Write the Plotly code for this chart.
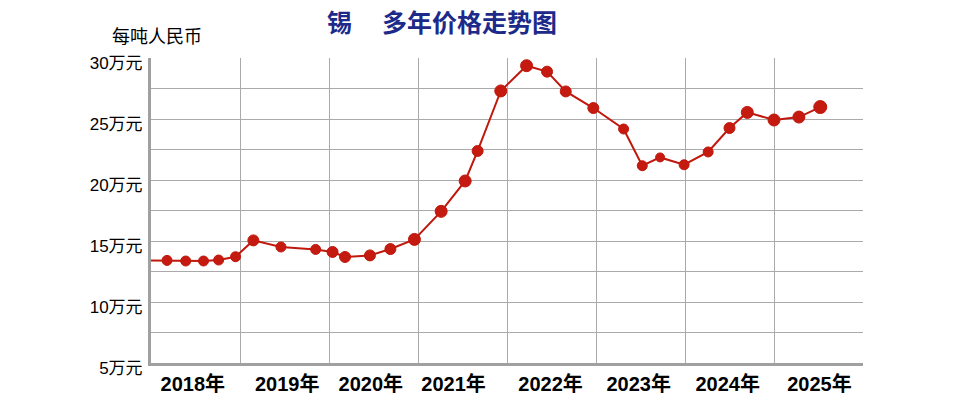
import plotly.graph_objects as go

# decimal-year positions of each price observation
x_years = [2018.00, 2018.18, 2018.39, 2018.59, 2018.76, 2018.95, 2019.15, 2019.46, 2019.85,
           2020.04, 2020.18, 2020.46, 2020.69, 2020.96, 2021.26, 2021.53, 2021.67, 2021.93,
           2022.22, 2022.45, 2022.66, 2022.97, 2023.31, 2023.52, 2023.72, 2023.99,
           2024.26, 2024.50, 2024.70, 2025.00, 2025.28, 2025.52]
# price in 万元 per ton
prices = [13.41, 13.41, 13.36, 13.36, 13.44, 13.71, 15.05, 14.51, 14.31,
          14.10, 13.69, 13.82, 14.34, 15.13, 17.43, 19.92, 22.38, 27.30,
          29.37, 28.88, 27.26, 25.90, 24.18, 21.17, 21.85, 21.25,
          22.30, 24.26, 25.54, 24.92, 25.16, 25.98]
marker_sizes = [0, 10, 10, 10, 10, 10, 11, 10, 10, 11, 11, 11, 11, 12, 12, 12, 11, 12,
                12, 11, 11, 11, 10, 10, 9, 10, 10, 11, 12, 12, 12, 13]

year_labels = ["2018年", "2019年", "2020年", "2021年", "2022年", "2023年", "2024年", "2025年"]
year_label_pos = [2018.47, 2019.53, 2020.47, 2021.40, 2022.49, 2023.48, 2024.48, 2025.51]
year_bounds = [2018, 2019, 2020, 2021, 2022, 2023, 2024, 2025, 2026]

y_vals = [5, 7.5, 10, 12.5, 15, 17.5, 20, 22.5, 25, 27.5, 30]
y_text = ["5万元", "", "10万元", "", "15万元", "", "20万元", "", "25万元", "", "30万元"]

title_text = "锡\u3000\u2009多年价格走势图"
unit_text = "每吨人民币"

FONT = "Liberation Sans, Arial, Noto Sans CJK SC, sans-serif"
GRID = "#aaaaaa"

# figure sits 8px inside the page (body margin)
W, H = 959, 405
ML, MR, MT, MB = 143, 104, 50, 50
PW = W - ML - MR
PH = H - MT - MB


def px_to_paper(px, py):
    # px, py are page pixel positions
    return ((px - 8 - ML) / PW, (H - MB - (py - 8)) / PH)


tx, ty = px_to_paper(442, 8)
ux, uy = px_to_paper(157, 35)

fig = go.Figure()
fig.add_trace(go.Scatter(
    x=x_years, y=prices, mode="lines+markers",
    line=dict(color="#c0180c", width=2),
    marker=dict(color="#c41a10", size=marker_sizes, opacity=1),
    hoverinfo="skip", showlegend=False,
))

fig.update_layout(
    width=W, height=H,
    margin=dict(l=ML, r=MR, t=MT, b=MB),
    paper_bgcolor="white", plot_bgcolor="white",
    font=dict(family=FONT, color="black"),
    annotations=[
        dict(text=title_text, x=tx, y=ty, xref="paper", yref="paper", showarrow=False,
             xanchor="center", yanchor="top", borderpad=0,
             font=dict(size=25, color="#1c2a8a", family="Liberation Sans, Noto Sans CJK SC, sans-serif",
                       weight="bold")),
        dict(text=unit_text, x=ux, y=uy, xref="paper", yref="paper", showarrow=False,
             xanchor="center", yanchor="middle",
             font=dict(size=18, color="black", family="Noto Sans CJK SC, sans-serif")),
    ],
)

fig.update_xaxes(
    range=[2018, 2026], tickmode="array", tickvals=year_label_pos, ticktext=year_labels,
    showgrid=False, showline=True, linecolor="#a0a0a0", linewidth=3,
    ticks="", ticklabelstandoff=1,
    tickfont=dict(size=20, color="black", family="Liberation Sans, Noto Sans CJK SC, sans-serif",
                  weight="bold"),
    minor=dict(tickmode="array", tickvals=year_bounds, showgrid=True, gridcolor=GRID, gridwidth=1, ticks=""),
    zeroline=False, fixedrange=True,
)
fig.update_yaxes(
    range=[5, 30], tickmode="array", tickvals=y_vals, ticktext=y_text,
    showgrid=True, gridcolor=GRID, gridwidth=1,
    showline=True, linecolor="#a0a0a0", linewidth=3,
    ticks="", ticklabelstandoff=2, ticklabelshift=5, tickfont=dict(size=17, color="black"),
    zeroline=False, fixedrange=True,
)

fig.write_html("out.html")
